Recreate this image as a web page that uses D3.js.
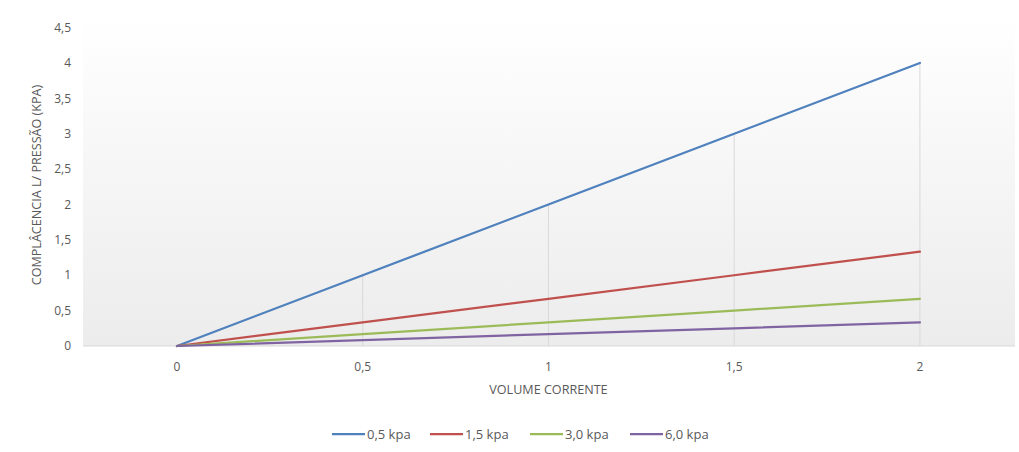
<!DOCTYPE html>
<html>
<head>
<meta charset="utf-8">
<script src="https://cdn.jsdelivr.net/npm/d3@7"></script>
<style>
  body { margin: 0; background: #fff; }
  text { font-family: "Open Sans", "DejaVu Sans", sans-serif; fill: #595959; }
</style>
</head>
<body>
<div id="chart"></div>
<script>
var width = 1019,
    height = 452;

// data
var volume = [0, 0.5, 1, 1.5, 2];
var seriesNames = ["0,5 kpa", "1,5 kpa", "3,0 kpa", "6,0 kpa"];
var kpa05 = [0, 1, 2, 3, 4];
var kpa15 = [0, 0.333, 0.667, 1, 1.333];
var kpa30 = [0, 0.167, 0.333, 0.5, 0.667];
var kpa60 = [0, 0.083, 0.167, 0.25, 0.333];
var colors = ["#4f81bd", "#c0504d", "#9bbb59", "#8064a2"];
var yTicks = [0, 0.5, 1, 1.5, 2, 2.5, 3, 3.5, 4, 4.5];
var xTicks = [0, 0.5, 1, 1.5, 2];

var allSeries = [kpa05, kpa15, kpa30, kpa60];

var svg = d3.select("#chart").append("svg")
    .attr("width", width)
    .attr("height", height);

var x = d3.scaleLinear().domain([-0.253, 2.256]).range([83, 1015]);
var y = d3.scaleLinear().domain([0, 4.5]).range([346, 27.6]);

var fmt = function (d) { return String(d).replace(".", ","); };

// plot area background gradient
var defs = svg.append("defs");
var grad = defs.append("linearGradient")
    .attr("id", "bg")
    .attr("x1", 0).attr("y1", 0).attr("x2", 0).attr("y2", 1);
grad.append("stop").attr("offset", "0%").attr("stop-color", "#ffffff");
grad.append("stop").attr("offset", "100%").attr("stop-color", "#ececec");

svg.append("rect")
    .attr("x", x.range()[0])
    .attr("y", y(4.5) - 12)
    .attr("width", x.range()[1] - x.range()[0])
    .attr("height", y(0) - y(4.5) + 12)
    .style("fill", "url(#bg)");

// drop lines from top series to axis
svg.append("g").selectAll("line")
    .data(volume.slice(1))
    .enter().append("line")
    .attr("x1", d => x(d)).attr("x2", d => x(d))
    .attr("y1", (d, i) => y(kpa05[i + 1]))
    .attr("y2", y(0))
    .style("stroke", "#d9d9d9")
    .style("stroke-width", 1);

// x axis line
svg.append("line")
    .attr("x1", x.range()[0]).attr("x2", x.range()[1])
    .attr("y1", y(0)).attr("y2", y(0))
    .style("stroke", "#d9d9d9")
    .style("stroke-width", 1);

// y tick labels
svg.append("g").selectAll("text")
    .data(yTicks)
    .enter().append("text")
    .attr("x", 71)
    .attr("y", d => y(d))
    .attr("dy", "0.35em")
    .attr("text-anchor", "end")
    .style("font-size", "12px")
    .text(fmt);

// x tick labels
svg.append("g").selectAll("text")
    .data(xTicks)
    .enter().append("text")
    .attr("x", d => x(d))
    .attr("y", 371)
    .attr("text-anchor", "middle")
    .style("font-size", "12px")
    .text(fmt);

// axis titles
svg.append("text")
    .attr("transform", "translate(41,185) rotate(-90)")
    .attr("text-anchor", "middle")
    .style("font-size", "12.6px")
    .text("COMPLÂCENCIA L/ PRESSÃO (KPA)");

svg.append("text")
    .attr("x", x(1))
    .attr("y", 394)
    .attr("text-anchor", "middle")
    .style("font-size", "12.6px")
    .text("VOLUME CORRENTE");

// series lines
var line = d3.line()
    .x((d, i) => x(volume[i]))
    .y(d => y(d));

svg.append("g").selectAll("path")
    .data(allSeries)
    .enter().append("path")
    .attr("d", line)
    .style("fill", "none")
    .style("stroke", (d, i) => colors[i])
    .style("stroke-width", 2.25)
    .style("stroke-linecap", "round");

// legend
var legendX = [332, 430, 530, 630];
var legend = svg.append("g").selectAll("g")
    .data(seriesNames)
    .enter().append("g")
    .attr("transform", (d, i) => "translate(" + legendX[i] + ",434)");

legend.append("line")
    .attr("x1", 0).attr("x2", 33)
    .attr("y1", 0).attr("y2", 0)
    .style("stroke", (d, i) => colors[i])
    .style("stroke-width", 2.25);

legend.append("text")
    .attr("x", 35)
    .attr("dy", "0.35em")
    .style("font-size", "13px")
    .text(d => d);
</script>
</body>
</html>
